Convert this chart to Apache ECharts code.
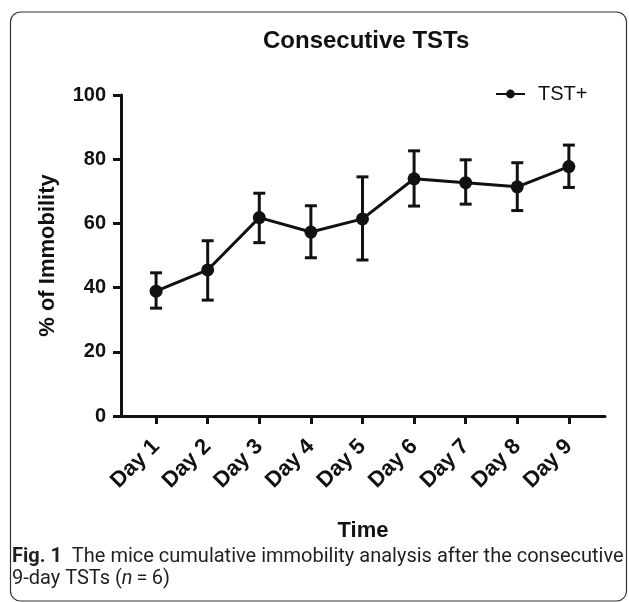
<!DOCTYPE html>
<html>
<head>
<meta charset="utf-8">
<title>Consecutive TSTs</title>
<script src="https://cdn.jsdelivr.net/npm/echarts@6/dist/echarts.min.js"></script>
<style>
  html, body { margin: 0; padding: 0; background: #fff; }
  #chart { width: 629px; height: 602px; }
</style>
</head>
<body>
<div id="chart"></div>
<script>
// categories
const days = ['Day 1', 'Day 2', 'Day 3', 'Day 4', 'Day 5', 'Day 6', 'Day 7', 'Day 8', 'Day 9']
// % of immobility, mean and error bar ends
const meanImmobility = [38.9, 45.5, 61.8, 57.3, 61.4, 73.9, 72.7, 71.4, 77.7]
const errUpper = [44.6, 54.6, 69.4, 65.5, 74.5, 82.6, 79.8, 78.9, 84.4]
const errLower = [33.6, 36.1, 54.0, 49.3, 48.6, 65.4, 66.0, 64.0, 71.2]
// y tick labels
const yTicks = [0, 20, 40, 60, 80, 100]
const dayPos = days.map((d, i) => i + 1)

const font = '"Liberation Sans", Arial, sans-serif'
let mycharts = echarts.init(document.getElementById('chart'))

mycharts.setOption({
  animation: false,
  title: {
    text: 'Consecutive TSTs',
    left: 258,
    top: 24,
    textStyle: { fontFamily: font, fontSize: 24, fontWeight: 'bold', color: '#111' },
  },
  legend: {
    data: ['TST+'],
    left: 490,
    top: 79,
    itemWidth: 29,
    itemHeight: 11,
    textStyle: { fontFamily: font, fontSize: 20, color: '#111', padding: [0, 0, 0, 8] },
  },
  grid: { left: 121, right: 24, top: 95, bottom: 186 },
  xAxis: {
    type: 'value',
    min: 0.32,
    max: 9.7,
    name: 'Time',
    nameLocation: 'middle',
    nameGap: 104,
    nameTextStyle: { fontFamily: font, fontSize: 22, fontWeight: 'bold', color: '#111' },
    splitLine: { show: false },
    axisLine: { show: true, onZero: false, lineStyle: { color: '#111', width: 3 } },
    axisTick: { show: true, length: 8, customValues: dayPos, lineStyle: { color: '#111', width: 3 } },
    axisLabel: {
      customValues: dayPos,
      rotate: 45,
      margin: 27,
      fontFamily: font,
      fontSize: 22,
      fontWeight: 'bold',
      color: '#111',
      formatter: (v) => days[Math.round(v) - 1],
    },
  },
  yAxis: {
    type: 'value',
    min: 0,
    max: 100,
    interval: 20,
    name: '% of Immobility',
    nameLocation: 'middle',
    nameGap: 62,
    nameTextStyle: { fontFamily: font, fontSize: 22, fontWeight: 'bold', color: '#111' },
    splitLine: { show: false },
    axisLine: { show: true, onZero: false, lineStyle: { color: '#111', width: 3 } },
    axisTick: { show: true, length: 8, lineStyle: { color: '#111', width: 3 } },
    axisLabel: {
      margin: 15,
      fontFamily: font,
      fontSize: 20,
      fontWeight: 'bold',
      color: '#111',
      formatter: (v) => (yTicks.includes(v) ? String(v) : ''),
    },
  },
  series: [
    {
      // error bars
      type: 'custom',
      silent: true,
      data: dayPos.map((x, i) => [x, errLower[i], errUpper[i]]),
      encode: { x: 0, y: [1, 2] },
      renderItem: function (params, api) {
        const x = api.value(0)
        const lo = api.coord([x, api.value(1)])
        const hi = api.coord([x, api.value(2)])
        const cap = 6
        const style = { stroke: '#111', lineWidth: 3 }
        return {
          type: 'group',
          children: [
            { type: 'line', shape: { x1: lo[0], y1: lo[1], x2: hi[0], y2: hi[1] }, style },
            { type: 'line', shape: { x1: hi[0] - cap, y1: hi[1], x2: hi[0] + cap, y2: hi[1] }, style },
            { type: 'line', shape: { x1: lo[0] - cap, y1: lo[1], x2: lo[0] + cap, y2: lo[1] }, style },
          ],
        }
      },
    },
    {
      name: 'TST+',
      type: 'line',
      data: dayPos.map((x, i) => [x, meanImmobility[i]]),
      symbol: 'circle',
      symbolSize: 13,
      itemStyle: { color: '#111' },
      lineStyle: { color: '#111', width: 3 },
      z: 3,
    },
  ],
  graphic: [
    {
      // figure frame
      type: 'rect',
      silent: true,
      shape: { x: 10.5, y: 12, width: 616, height: 589, r: 10 },
      style: { fill: 'none', stroke: '#333', lineWidth: 1.2 },
    },
    {
      type: 'text',
      left: 12,
      top: 546,
      style: {
        text: '{b|Fig. 1}  The mice cumulative immobility analysis after the consecutive\n9-day TSTs ({i|n}\u2009=\u20096)',
        fontFamily: 'Roboto, sans-serif',
        fontSize: 20,
        lineHeight: 22,
        fill: '#231f20',
        rich: {
          b: { fontFamily: 'Roboto, sans-serif', fontSize: 20, fontWeight: 'bold', fill: '#231f20' },
          i: { fontFamily: 'Roboto, sans-serif', fontSize: 20, fontStyle: 'italic', fill: '#231f20' },
        },
      },
    },
  ],
})
</script>
</body>
</html>
